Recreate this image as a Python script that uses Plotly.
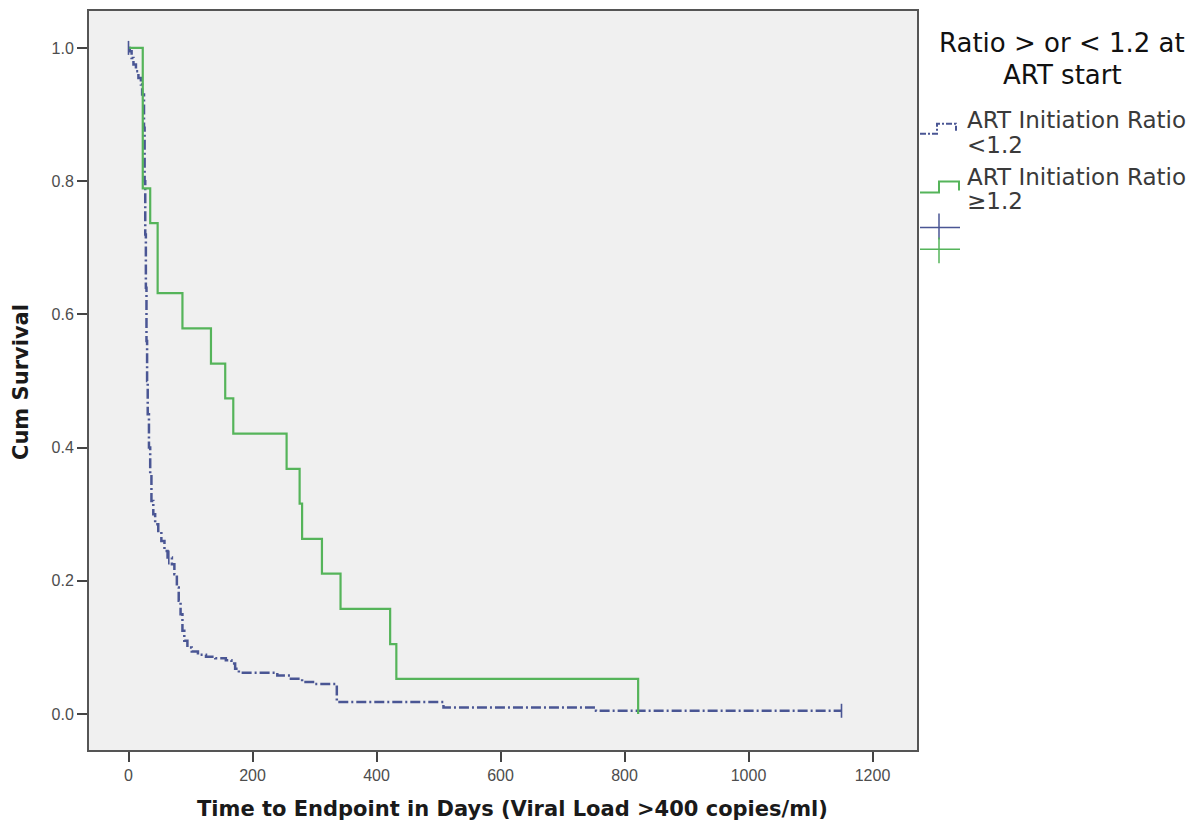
import plotly.graph_objects as go

# ---- data ----
blue_days = [0, 2, 5, 8, 12, 16, 20, 22, 25, 26, 27, 28, 29, 30, 31, 33, 35, 37, 40,
             43, 48, 53, 58, 63, 70, 74, 78, 81, 84, 87, 90, 95, 102, 112, 125, 140,
             157, 166, 172, 178, 240, 262, 280, 300, 336, 508, 754, 1150]
blue_surv = [1.000, 0.995, 0.985, 0.975, 0.965, 0.955, 0.945, 0.930, 0.880, 0.800,
             0.720, 0.640, 0.560, 0.500, 0.450, 0.400, 0.360, 0.320, 0.300,
             0.285, 0.275, 0.260, 0.245, 0.235, 0.225, 0.210, 0.190, 0.170, 0.150,
             0.125, 0.110, 0.100, 0.094, 0.089, 0.086, 0.084,
             0.081, 0.076, 0.068, 0.062, 0.058, 0.053, 0.048, 0.045, 0.018, 0.010,
             0.005, 0.005]

green_days = [0, 23, 35, 47, 87, 133, 156, 169, 255, 276, 280, 312, 342, 422, 432, 822]
green_surv = [1.000, 0.789, 0.737, 0.632, 0.579, 0.526, 0.474, 0.421, 0.368, 0.316,
              0.263, 0.211, 0.158, 0.105, 0.053, 0.000]

blue_censor_days = [0, 65, 1150]
blue_censor_surv = [1.000, 0.235, 0.005]

x_ticks = [0, 200, 400, 600, 800, 1000, 1200]
y_ticks = [0.0, 0.2, 0.4, 0.6, 0.8, 1.0]

x_title = "Time to Endpoint in Days (Viral Load >400 copies/ml)"
y_title = "Cum Survival"
legend_title_lines = ["Ratio > or < 1.2 at", "ART start"]
series_name_lines = [["ART Initiation Ratio", "<1.2"], ["ART Initiation Ratio", "≥1.2"]]

BLUE = "#4a5694"
GREEN = "#55b45a"

fig = go.Figure()
fig.add_trace(go.Scatter(x=blue_days, y=blue_surv, mode="lines", line_shape="hv",
                         line=dict(color=BLUE, width=2.5, dash="10px,3px,2px,3px"),
                         showlegend=False))
fig.add_trace(go.Scatter(x=green_days, y=green_surv, mode="lines", line_shape="hv",
                         line=dict(color=GREEN, width=2.2), showlegend=False))
fig.add_trace(go.Scatter(x=blue_censor_days, y=blue_censor_surv, mode="markers",
                         marker=dict(symbol="line-ns", size=10,
                                     line=dict(color=BLUE, width=1.6)),
                         showlegend=False))

# page geometry (the page body adds an 8px offset)
OFF = 8
W, H = 1198 - 2 * OFF, 832 - 2 * OFF
L, R, T, B = 89, 917, 9, 750          # plot-area edges in page pixels
pw, ph = R - L, B - T


def px(x):
    return (x - L) / pw


def py(y):
    return (B - y) / ph


def text_ann(text, x, y, size, color, xanchor="left", bold=False, angle=0):
    return dict(text=("<b>%s</b>" % text) if bold else text, x=px(x), y=py(y),
                xref="paper", yref="paper", xanchor=xanchor, yanchor="middle",
                showarrow=False, textangle=angle,
                font=dict(family="DejaVu Sans", size=size, color=color))


ann = [
    text_ann(x_title, 512, 809, 21, "#1a1a1a", xanchor="center", bold=True),
    text_ann(y_title, 21, 381, 21, "#1a1a1a", xanchor="center", bold=True, angle=-90),
    text_ann(legend_title_lines[0], 1062, 41, 26, "#111111", xanchor="center"),
    text_ann(legend_title_lines[1], 1062, 73, 26, "#111111", xanchor="center"),
    text_ann(series_name_lines[0][0], 965, 118, 23, "#3a3a3a"),
    text_ann(series_name_lines[0][1], 965, 143, 23, "#3a3a3a"),
    text_ann(series_name_lines[1][0], 965, 175, 23, "#3a3a3a"),
    text_ann(series_name_lines[1][1], 965, 200, 23, "#3a3a3a"),
]


def path(points):
    return "M " + " L ".join(f"{px(a):.5f},{py(b):.5f}" for a, b in points)


shapes = [
    dict(type="path", xref="paper", yref="paper",
         path=path([(920, 132), (937, 132), (937, 122), (956, 122), (956, 129)]),
         line=dict(color=BLUE, width=2, dash="6px,2px,2px,2px")),
    dict(type="path", xref="paper", yref="paper",
         path=path([(920, 191), (939, 191), (939, 180), (959, 180), (959, 189)]),
         line=dict(color=GREEN, width=2)),
    dict(type="line", xref="paper", yref="paper", x0=px(920), x1=px(960),
         y0=py(226), y1=py(226), line=dict(color=BLUE, width=1.5)),
    dict(type="line", xref="paper", yref="paper", x0=px(939), x1=px(939),
         y0=py(212), y1=py(238), line=dict(color=BLUE, width=1.5)),
    dict(type="line", xref="paper", yref="paper", x0=px(920), x1=px(960),
         y0=py(248), y1=py(248), line=dict(color=GREEN, width=1.5)),
    dict(type="line", xref="paper", yref="paper", x0=px(939), x1=px(939),
         y0=py(236), y1=py(262), line=dict(color=GREEN, width=1.5)),
]

x_per_px = 200 / 124.0
y_per_px = 1.0 / 668.0
x0_px, y0_px = 128.5, 714

fig.update_layout(
    width=W, height=H,
    margin=dict(l=L - OFF, r=(W + OFF) - R, t=T - OFF, b=(H + OFF) - B),
    paper_bgcolor="white", plot_bgcolor="#f0f0f0",
    annotations=ann, shapes=shapes, showlegend=False,
)
fig.update_xaxes(range=[(L - x0_px) * x_per_px, (R - x0_px) * x_per_px],
                 tickvals=x_ticks, ticks="outside", ticklen=10, tickcolor="#444",
                 tickwidth=1.5, showgrid=False, zeroline=False,
                 showline=True, linecolor="#555", linewidth=2, mirror=True,
                 tickfont=dict(family="Liberation Sans", size=16, color="#4d4d4d"))
fig.update_yaxes(range=[(y0_px - B) * y_per_px, (y0_px - T) * y_per_px],
                 tickvals=y_ticks, tickformat=".1f", ticks="outside", ticklen=10,
                 tickcolor="#444", tickwidth=1.5, showgrid=False, zeroline=False,
                 showline=True, linecolor="#555", linewidth=2, mirror=True,
                 tickfont=dict(family="Liberation Sans", size=16, color="#4d4d4d"))

fig.write_html("out.html")
